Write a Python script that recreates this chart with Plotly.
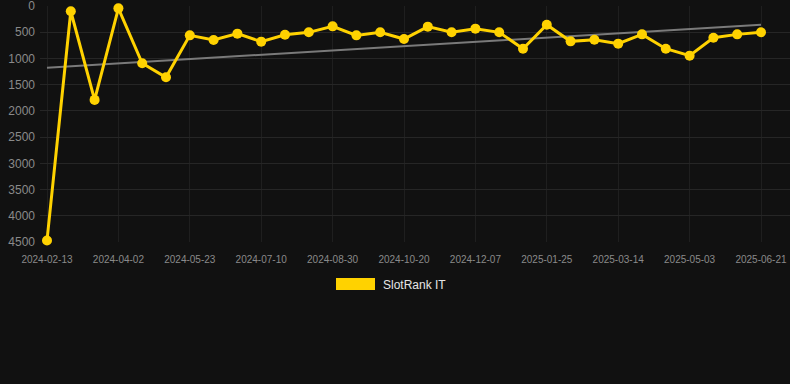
import plotly.graph_objects as go

dates = ["2024-02-13", "2024-02-29", "2024-03-17", "2024-04-02", "2024-04-19", "2024-05-06",
         "2024-05-23", "2024-06-08", "2024-06-24", "2024-07-10", "2024-07-27", "2024-08-13",
         "2024-08-30", "2024-09-16", "2024-10-03", "2024-10-20", "2024-11-05", "2024-11-21",
         "2024-12-07", "2024-12-24", "2025-01-09", "2025-01-25", "2025-02-10", "2025-02-26",
         "2025-03-14", "2025-03-31", "2025-04-17", "2025-05-03", "2025-05-20", "2025-06-05",
         "2025-06-21"]
rank = [4470, 100, 1790, 45, 1093, 1360, 560, 648, 527, 680, 547, 502, 388, 560, 502,
        630, 394, 502, 432, 502, 814, 356, 674, 642, 718, 541, 814, 947, 604, 541, 502]
trend_x = [dates[0], dates[-1]]
trend_y = [1176, 356]
tick_labels = dates[::3]
y_ticks = [0, 500, 1000, 1500, 2000, 2500, 3000, 3500, 4000, 4500]
series_name = "SlotRank IT"

GOLD = "#FFD200"
BG = "#111111"

fig = go.Figure()
fig.add_trace(go.Scatter(x=trend_x, y=trend_y, mode="lines",
                         line=dict(color="#7a7a7a", width=2), showlegend=False,
                         hoverinfo="skip", cliponaxis=False))
fig.add_trace(go.Scatter(x=dates, y=rank, mode="lines+markers", name=series_name,
                         line=dict(color=GOLD, width=3),
                         marker=dict(color=GOLD, size=10),
                         showlegend=False, cliponaxis=False))

n = len(dates)
step = 714 / (n - 1)
fig.update_layout(
    width=790, height=384,
    paper_bgcolor=BG, plot_bgcolor=BG,
    margin=dict(l=40, r=0, t=6, b=142),
    font=dict(family="Liberation Sans, Arial, sans-serif", color="#8a8a8a"),
    xaxis=dict(type="category", categoryorder="array", categoryarray=dates,
               range=[-7 / step, (n - 1) + 29 / step],
               tickmode="array", tickvals=tick_labels, ticktext=tick_labels,
               tickfont=dict(size=10, color="#8a8a8a"),
               showgrid=True, gridcolor="#1f1f1f", gridwidth=1,
               zeroline=False, showline=False, ticks="", ticklabelstandoff=10,
               ticklabeloverflow="allow"),
    yaxis=dict(range=[4500, 0], tickmode="array", tickvals=y_ticks,
               tickfont=dict(size=12, color="#8a8a8a"),
               showgrid=True, gridcolor="#262626", gridwidth=1,
               zeroline=False, showline=False, ticks="", ticklabelstandoff=4,
               ticklabeloverflow="allow"),
    showlegend=False,
)

# legend drawn manually
fig.add_shape(type="rect", xref="paper", yref="paper",
              x0=(336 - 40) / 750, x1=(375 - 40) / 750,
              y0=(242 - 290) / 236, y1=(242 - 278) / 236,
              fillcolor=GOLD, line=dict(width=0))
fig.add_annotation(xref="paper", yref="paper", x=(381 - 40) / 750, y=(242 - 284.5) / 236,
                   text=series_name, showarrow=False, xanchor="left", yanchor="middle",
                   font=dict(size=12, color="#e6e6e6"))

fig.write_html("out.html", config={"displayModeBar": False},
               post_script="document.body.style.margin='0';document.body.style.background='#111111';document.body.style.overflow='hidden';")
